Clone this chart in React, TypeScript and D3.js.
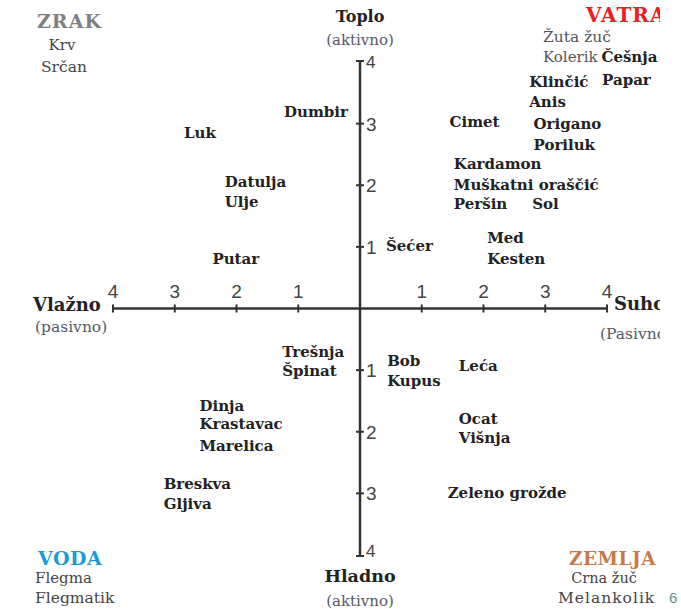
import * as d3 from 'd3'

// food positions in axis units: x = dry(+)/wet(-), y = warm(+)/cold(-)
const warmWet = [
  { name: 'Dumbir', x: -1.23, y: 3.1 },
  { name: 'Luk', x: -2.85, y: 2.76 },
  { name: 'Datulja', x: -2.19, y: 1.97 },
  { name: 'Ulje', x: -2.19, y: 1.64 },
  { name: 'Putar', x: -2.39, y: 0.72 },
]

const warmDry = [
  { name: 'Češnja', x: 3.91, y: 4.0 },
  { name: 'Papar', x: 3.92, y: 3.62 },
  { name: 'Klinčić', x: 2.74, y: 3.6 },
  { name: 'Anis', x: 2.74, y: 3.27 },
  { name: 'Cimet', x: 1.45, y: 2.94 },
  { name: 'Origano', x: 2.81, y: 2.91 },
  { name: 'Poriluk', x: 2.81, y: 2.57 },
  { name: 'Kardamon', x: 1.52, y: 2.26 },
  { name: 'Muškatni oraščić', x: 1.52, y: 1.93 },
  { name: 'Peršin', x: 1.52, y: 1.61 },
  { name: 'Sol', x: 2.79, y: 1.61 },
  { name: 'Šećer', x: 0.42, y: 0.93 },
  { name: 'Med', x: 2.06, y: 1.06 },
  { name: 'Kesten', x: 2.06, y: 0.73 },
]

const coldWet = [
  { name: 'Trešnja', x: -1.26, y: -0.78 },
  { name: 'Špinat', x: -1.26, y: -1.09 },
  { name: 'Dinja', x: -2.6, y: -1.66 },
  { name: 'Krastavac', x: -2.6, y: -1.95 },
  { name: 'Marelica', x: -2.6, y: -2.31 },
  { name: 'Breskva', x: -3.18, y: -2.93 },
  { name: 'Gljiva', x: -3.18, y: -3.25 },
]

const coldDry = [
  { name: 'Bob', x: 0.44, y: -0.93 },
  { name: 'Kupus', x: 0.44, y: -1.25 },
  { name: 'Leća', x: 1.6, y: -1.02 },
  { name: 'Ocat', x: 1.6, y: -1.87 },
  { name: 'Višnja', x: 1.6, y: -2.18 },
  { name: 'Zeleno grožde', x: 1.42, y: -3.07 },
]

const ticks = [-4, -3, -2, -1, 1, 2, 3, 4]

const W = 681
const H = 609
const serif = '"DejaVu Serif", "Liberation Serif", serif'
const sans = '"Liberation Sans", Arial, sans-serif'
const ink = '#222'
const soft = '#555a66'

export default function App() {
  const x = d3.scaleLinear().domain([-4, 4]).range([113, 607])
  const y = d3.scaleLinear().domain([-4, 4]).range([555, 62])
  const x0 = x(0)
  const y0 = y(0)
  const foods = [...warmWet, ...warmDry, ...coldWet, ...coldDry]

  return (
    <svg width={W} height={H} style={{ position: 'absolute', left: 0, top: 0, background: '#fff' }}>
      <defs>
        <clipPath id="page">
          <rect x={0} y={0} width={660} height={H} />
        </clipPath>
      </defs>
      <g clipPath="url(#page)">
        {/* axes */}
        <line x1={x(-4)} x2={x(4)} y1={y0} y2={y0} stroke="#333" strokeWidth={2.5} />
        <line x1={x0} x2={x0} y1={y(4) - 2} y2={y(-4) + 2} stroke="#333" strokeWidth={2.5} />
        <line x1={x0 - 4} x2={x0 + 4} y1={y(4) - 1} y2={y(4) - 1} stroke="#333" strokeWidth={2} />
        <line x1={x0 - 4} x2={x0 + 4} y1={y(-4) + 1} y2={y(-4) + 1} stroke="#333" strokeWidth={2} />
        {ticks.map((t) => (
          <g key={'tx' + t}>
            <line x1={x(t)} x2={x(t)} y1={y0 - 4} y2={y0 + 4} stroke="#333" strokeWidth={2} />
            <text x={x(t)} y={y0 - 11} textAnchor="middle" fontFamily={sans} fontSize={19} fill="#444">
              {Math.abs(t)}
            </text>
          </g>
        ))}
        {ticks.map((t) => (
          <g key={'ty' + t}>
            {Math.abs(t) < 4 && (
              <line x1={x0 - 4} x2={x0 + 4} y1={y(t)} y2={y(t)} stroke="#333" strokeWidth={2} />
            )}
            <text
              x={x0 + 6}
              y={t === 4 ? y(t) + 6 : t === -4 ? y(t) + 2 : y(t) + 7}
              fontFamily={sans}
              fontSize={t === 4 || t === -4 ? 17 : 19}
              fill="#444"
            >
              {Math.abs(t)}
            </text>
          </g>
        ))}

        {/* foods */}
        {foods.map((d) => (
          <text key={d.name} x={x(d.x)} y={y(d.y)} fontFamily={serif} fontWeight="bold" fontSize={15} fill={ink}>
            {d.name}
          </text>
        ))}

        {/* axis titles */}
        <text x={x0} y={22} textAnchor="middle" fontFamily={serif} fontWeight="bold" fontSize={16} fill={ink}>Toplo</text>
        <text x={x0} y={45} textAnchor="middle" fontFamily={serif} fontSize={15} fill={soft}>(aktivno)</text>
        <text x={x0} y={582} textAnchor="middle" fontFamily={serif} fontWeight="bold" fontSize={17.5} fill={ink}>Hladno</text>
        <text x={x0} y={606} textAnchor="middle" fontFamily={serif} fontSize={15} fill={soft}>(aktivno)</text>
        <text x={33} y={y0 + 2} fontFamily={serif} fontWeight="bold" fontSize={18} fill={ink}>Vlažno</text>
        <text x={35} y={y0 + 23} fontFamily={serif} fontSize={15.5} fill={soft}>(pasivno)</text>
        <text x={614} y={y0 + 1} fontFamily={serif} fontWeight="bold" fontSize={18} fill={ink}>Suho</text>
        <text x={600} y={y0 + 30} fontFamily={serif} fontSize={15.5} fill={soft}>(Pasivno)</text>

        {/* corner elements */}
        <text x={37} y={28} fontFamily={serif} fontWeight="bold" fontSize={19} letterSpacing={1} fill="#7f7f7f">ZRAK</text>
        <text x={62} y={50} textAnchor="middle" fontFamily={serif} fontSize={15} fill="#444">Krv</text>
        <text x={41} y={72} fontFamily={serif} fontSize={15.5} fill="#444">Srčan</text>

        <text x={586} y={22} fontFamily={serif} fontWeight="bold" fontSize={20} letterSpacing={1} fill="#ee1c25">VATRA</text>
        <text x={543} y={42} fontFamily={serif} fontSize={15.5} fill="#555">Žuta žuč</text>
        <text x={543} y={62} fontFamily={serif} fontSize={15} fill="#555">Kolerik</text>

        <text x={38} y={565} fontFamily={serif} fontWeight="bold" fontSize={19} letterSpacing={0.5} fill="#1a9ad6">VODA</text>
        <text x={35} y={583} fontFamily={serif} fontSize={15} fill="#444">Flegma</text>
        <text x={35} y={603} fontFamily={serif} fontSize={15.5} fill="#444">Flegmatik</text>

        <text x={569} y={565} fontFamily={serif} fontWeight="bold" fontSize={18.5} letterSpacing={0.5} fill="#c8794b">ZEMLJA</text>
        <text x={604} y={583} textAnchor="middle" fontFamily={serif} fontSize={14.5} fill="#444">Crna žuč</text>
        <text x={558} y={603} fontFamily={serif} fontSize={15.5} letterSpacing={1} fill="#444">Melankolik</text>
      </g>
      <text x={669} y={603} fontFamily={sans} fontSize={15} fill="#5a9a8a">6</text>
    </svg>
  )
}
